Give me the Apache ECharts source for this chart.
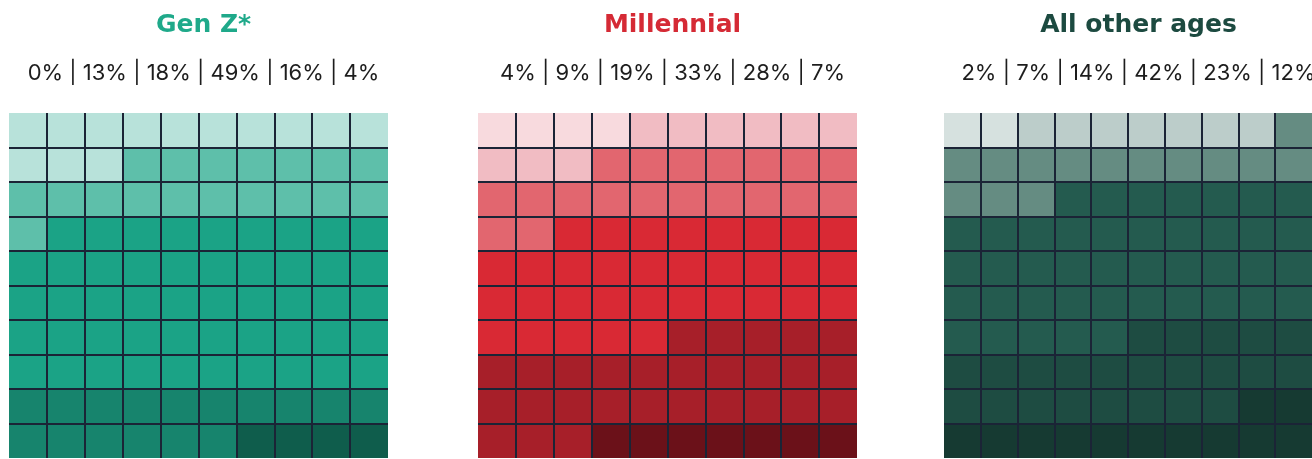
<!DOCTYPE html>
<html>
<head>
<meta charset="utf-8">
<script src="https://cdn.jsdelivr.net/npm/echarts@6/dist/echarts.min.js"></script>
<style>
  html, body { margin: 0; padding: 0; background: #ffffff; }
  #chart { width: 1312px; height: 459px; }
</style>
</head>
<body>
<div id="chart"></div>
<script>
// Share of respondents in each of six buckets, per generation (percent)
const groups = ['Gen Z*', 'Millennial', 'All other ages'];
const genZ = [0, 13, 18, 49, 16, 4];
const millennial = [4, 9, 19, 33, 28, 7];
const otherAges = [2, 7, 14, 42, 23, 12];
const groupValues = [genZ, millennial, otherAges];

// Waffle grid index labels (10 x 10, one cell per percent)
const cols = ['0', '1', '2', '3', '4', '5', '6', '7', '8', '9'];
const rows = ['0', '1', '2', '3', '4', '5', '6', '7', '8', '9'];

// Colour ramps, lightest bucket first
const palettes = [
  ['#dcf1ed', '#b8e2da', '#5ebfaa', '#1ba386', '#17846d', '#0f5d4c'],
  ['#f8dade', '#f1bcc3', '#e2666f', '#d92934', '#a71f29', '#6b1119'],
  ['#d6e1df', '#bccdca', '#658c82', '#245b4f', '#1e4c42', '#163a32']
];
const titleColors = ['#1fa98a', '#d52a35', '#1c4a40'];

const panelLeft = [9, 478, 944];
const panelWidth = 379;
const gridTop = 113;
const gridHeight = 345;

// Turn a list of percentages into waffle cells, filled row by row
function waffleCells(values) {
  const cells = [];
  let idx = 0;
  values.forEach((v, cat) => {
    for (let k = 0; k < v && idx < 100; k++, idx++) {
      cells.push([idx % 10, Math.floor(idx / 10), cat]);
    }
  });
  return cells;
}

const chart = echarts.init(document.getElementById('chart'), null, { renderer: 'canvas' });

const grids = [], xAxes = [], yAxes = [], series = [], titles = [];
const lineStyle = { color: '#1b2436', width: 2 };

groups.forEach((name, g) => {
  const center = panelLeft[g] + panelWidth / 2;
  grids.push({ left: panelLeft[g], top: gridTop, width: panelWidth, height: gridHeight });
  xAxes.push({
    type: 'category', data: cols, gridIndex: g, z: 10,
    axisLine: { show: false }, axisTick: { show: false }, axisLabel: { show: false },
    splitLine: { show: true, interval: 0, showMinLine: false, showMaxLine: false, lineStyle }
  });
  yAxes.push({
    type: 'category', data: rows, gridIndex: g, inverse: true, z: 10,
    axisLine: { show: false }, axisTick: { show: false }, axisLabel: { show: false },
    splitLine: { show: true, interval: 0, showMinLine: false, showMaxLine: false, lineStyle }
  });
  const palette = palettes[g];
  series.push({
    type: 'custom',
    xAxisIndex: g, yAxisIndex: g,
    data: waffleCells(groupValues[g]),
    renderItem: function (params, api) {
      const p = api.coord([api.value(0), api.value(1)]);
      const s = api.size([1, 1]);
      return {
        type: 'rect',
        shape: { x: p[0] - s[0] / 2, y: p[1] - s[1] / 2, width: s[0], height: s[1] },
        style: { fill: palette[api.value(2)] }
      };
    },
    silent: true
  });
  titles.push({
    text: name,
    left: center, top: 8, textAlign: 'center',
    textStyle: { fontFamily: 'DejaVu Sans', fontWeight: 'bold', fontSize: 25, color: titleColors[g] }
  });
  titles.push({
    text: groupValues[g].map(v => v + '%').join(' | '),
    left: center, top: 57, textAlign: 'center',
    textStyle: { fontFamily: 'Inter', fontWeight: 'normal', fontSize: 22, color: '#1d1d1d' }
  });
});

chart.setOption({
  animation: false,
  backgroundColor: '#ffffff',
  title: titles,
  grid: grids,
  xAxis: xAxes,
  yAxis: yAxes,
  series: series
});
</script>
</body>
</html>
